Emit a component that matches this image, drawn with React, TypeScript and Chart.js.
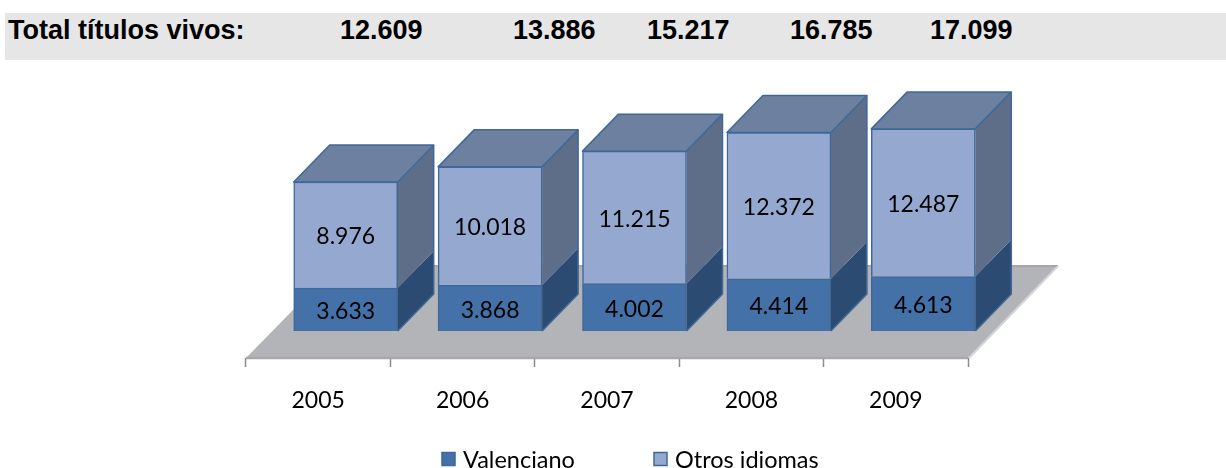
import React, { useEffect, useRef } from "react";
import { Chart, registerables } from "chart.js";

Chart.register(...registerables);

const years = ["2005", "2006", "2007", "2008", "2009"];
const valenciano = [3633, 3868, 4002, 4414, 4613];
const otrosIdiomas = [8976, 10018, 11215, 12372, 12487];
const totals = ["12.609", "13.886", "15.217", "16.785", "17.099"];
const totalsLabel = "Total títulos vivos:";
const totalsX = [340, 513, 647, 790, 930];

const FONT = "Lato, Carlito, Calibri, sans-serif";
const BAR_SHIFT = { x: 27.5, y: 27 };
const BAR_DEPTH = { x: 36, y: 37 };
const FLOOR_DEPTH = { x: 90, y: 92 };

const fmt = (v: number) => String(v).replace(/\B(?=(\d{3})+$)/g, ".");

function poly(ctx: CanvasRenderingContext2D, pts: number[][], fill: string, stroke?: string, lw = 1.5) {
  ctx.beginPath();
  pts.forEach(([x, y], i) => (i ? ctx.lineTo(x, y) : ctx.moveTo(x, y)));
  ctx.closePath();
  ctx.fillStyle = fill;
  ctx.fill();
  if (stroke) {
    ctx.strokeStyle = stroke;
    ctx.lineWidth = lw;
    ctx.lineJoin = "round";
    ctx.stroke();
  }
}

const sideColors = ["#2C4B72", "#5F6E88"];
const TOP_COLOR = "#6E809F";
const EDGE = "#3F6899";

const threeD = {
  id: "threeD",
  beforeDatasetsDraw(chart: any) {
    const { ctx, scales } = chart;
    const x = scales.x;
    const y0 = scales.y.getPixelForValue(0);
    ctx.save();
    // floor
    poly(
      ctx,
      [
        [x.left, y0],
        [x.right, y0],
        [x.right + FLOOR_DEPTH.x, y0 - FLOOR_DEPTH.y],
        [x.left + FLOOR_DEPTH.x, y0 - FLOOR_DEPTH.y],
      ],
      "#B2B4B7"
    );
    ctx.strokeStyle = "#A6A6A6";
    ctx.lineWidth = 2;
    ctx.beginPath();
    ctx.moveTo(x.left + FLOOR_DEPTH.x, y0 - FLOOR_DEPTH.y);
    ctx.lineTo(x.right + FLOOR_DEPTH.x, y0 - FLOOR_DEPTH.y);
    ctx.stroke();
    ctx.strokeStyle = "#D4D5D6";
    ctx.beginPath();
    ctx.moveTo(x.right + 1, y0);
    ctx.lineTo(x.right + FLOOR_DEPTH.x, y0 - FLOOR_DEPTH.y);
    ctx.stroke();
    ctx.strokeStyle = "#A8A8A8";
    ctx.lineWidth = 2.5;
    ctx.beginPath();
    ctx.moveTo(x.left, y0);
    ctx.lineTo(x.right, y0);
    ctx.stroke();

    // side and top faces of every stack, from the bar elements' own geometry
    ctx.translate(BAR_SHIFT.x, -BAR_SHIFT.y);
    const metas = chart.data.datasets.map((_: any, i: number) => chart.getDatasetMeta(i));
    years.forEach((_, idx) => {
      metas.forEach((meta: any, ds: number) => {
        const b = meta.data[idx].getProps(["x", "y", "base", "width"]);
        const r = b.x + b.width / 2;
        poly(
          ctx,
          [
            [r, b.y],
            [r + BAR_DEPTH.x, b.y - BAR_DEPTH.y],
            [r + BAR_DEPTH.x, b.base - BAR_DEPTH.y],
            [r, b.base],
          ],
          sideColors[ds]
        );
      });
      const top = metas[metas.length - 1].data[idx].getProps(["x", "y", "base", "width"]);
      const l = top.x - top.width / 2;
      const r = top.x + top.width / 2;
      const base0 = metas[0].data[idx].getProps(["base"]).base;
      poly(
        ctx,
        [
          [l, top.y],
          [l + BAR_DEPTH.x, top.y - BAR_DEPTH.y],
          [r + BAR_DEPTH.x, top.y - BAR_DEPTH.y],
          [r, top.y],
        ],
        TOP_COLOR,
        EDGE
      );
      ctx.strokeStyle = EDGE;
      ctx.lineWidth = 1.5;
      ctx.beginPath();
      ctx.moveTo(r, base0);
      ctx.lineTo(r + BAR_DEPTH.x, base0 - BAR_DEPTH.y);
      ctx.lineTo(r + BAR_DEPTH.x, top.y - BAR_DEPTH.y);
      ctx.stroke();
    });
    ctx.restore();
    ctx.save();
    ctx.translate(BAR_SHIFT.x, -BAR_SHIFT.y);
  },
  afterDatasetsDraw(chart: any) {
    const { ctx } = chart;
    // value labels, still in the shifted frame
    ctx.fillStyle = "#000";
    ctx.font = `23px ${FONT}`;
    ctx.textAlign = "center";
    ctx.textBaseline = "middle";
    chart.data.datasets.forEach((ds: any, d: number) => {
      chart.getDatasetMeta(d).data.forEach((bar: any, i: number) => {
        const p = bar.getProps(["x", "y", "base"]);
        ctx.fillText(fmt(ds.data[i]), p.x, (p.y + p.base) / 2 + 2);
      });
    });
    ctx.restore();
  },
  afterDraw(chart: any) {
    const { ctx } = chart;
    const xs = [441, 653];
    const cy = 460;
    ctx.save();
    ctx.font = `23.5px ${FONT}`;
    ctx.textBaseline = "middle";
    ctx.textAlign = "left";
    chart.data.datasets.forEach((ds: any, i: number) => {
      ctx.fillStyle = ds.backgroundColor;
      ctx.strokeStyle = EDGE;
      ctx.lineWidth = 1.5;
      ctx.fillRect(xs[i] + 1, cy - 7.5, 13, 13);
      ctx.strokeRect(xs[i] + 1, cy - 7.5, 13, 13);
      ctx.fillStyle = "#000";
      ctx.fillText(ds.label, xs[i] + 22, cy);
    });
    ctx.restore();
  },
};

export default function App() {
  const ref = useRef<HTMLCanvasElement>(null);
  useEffect(() => {
    const chart = new Chart(ref.current!, {
      type: "bar",
      data: {
        labels: years,
        datasets: [
          { label: "Valenciano", data: valenciano, backgroundColor: "#4472A8", borderColor: EDGE, borderWidth: 1.5, clip: false },
          { label: "Otros idiomas", data: otrosIdiomas, backgroundColor: "#95A9D0", borderColor: EDGE, borderWidth: 1.5, clip: false },
        ],
      } as any,
      options: {
        animation: false,
        responsive: false,
        maintainAspectRatio: false,
        layout: { padding: { left: 246, right: 258, top: 121.6, bottom: 0 } },
        datasets: { bar: { barThickness: 104 } },
        scales: {
          x: {
            stacked: true,
            afterFit: (s: any) => {
              s.height = 110;
            },
            border: { display: false },
            grid: { drawOnChartArea: false, drawTicks: true, tickLength: 9, tickColor: "#8C8C8C", tickWidth: 1.5 },
            ticks: { color: "#000", padding: 20, font: { family: FONT, size: 23 }, maxRotation: 0 },
          },
          y: { stacked: true, display: false, min: 0, max: 20000 },
        },
        plugins: { legend: { display: false }, tooltip: { enabled: false }, title: { display: false } },
      } as any,
      plugins: [threeD],
    });
    return () => chart.destroy();
  }, []);

  const bannerText: React.CSSProperties = {
    position: "absolute",
    top: 13,
    font: "bold 27px/34px 'Liberation Sans', Arial, sans-serif",
    color: "#000",
    whiteSpace: "nowrap",
  };

  return (
    <div style={{ position: "absolute", left: 0, top: 0, width: 1226, height: 468, background: "#fff", overflow: "hidden" }}>
      <canvas ref={ref} width={1226} height={468} style={{ position: "absolute", left: 0, top: 0, display: "block" }} />
      <div style={{ position: "absolute", left: 5, top: 13, width: 1221, height: 47, background: "#E6E6E6" }} />
      <span style={{ ...bannerText, left: 8 }}>{totalsLabel}</span>
      {totals.map((t, i) => (
        <span key={t} style={{ ...bannerText, left: totalsX[i] }}>
          {t}
        </span>
      ))}
    </div>
  );
}
